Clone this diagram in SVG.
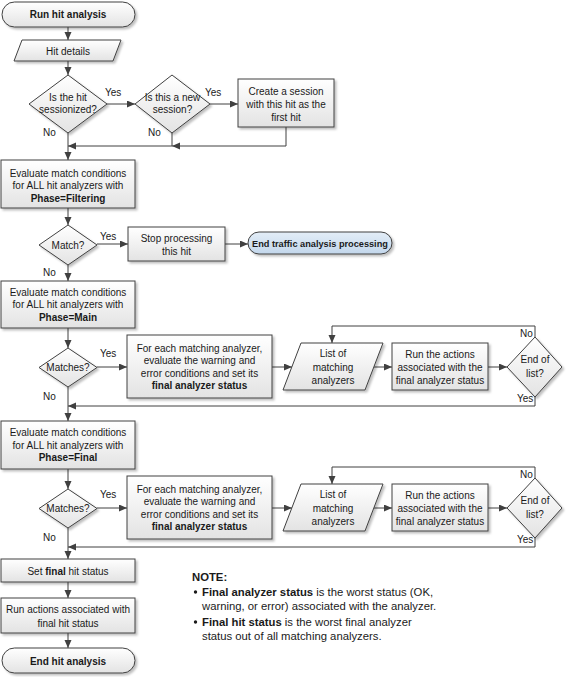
<svg xmlns="http://www.w3.org/2000/svg" width="571" height="677" viewBox="0 0 571 677">
<style>
text{font-family:"Liberation Sans",Arial,sans-serif;font-size:10px;fill:#1a1a1a;text-anchor:middle}
.l{text-anchor:start}
.b{font-weight:bold}
.n{font-size:11.3px}
.s{stroke:#404040;stroke-width:1;fill:url(#g)}
.t{stroke:#404040;stroke-width:1;fill:url(#gb)}
.c path{fill:none;stroke:#404040;stroke-width:1}
.a{marker-end:url(#ar)}
.sh{filter:url(#ds)}
</style>
<defs>
<linearGradient id="g" x1="0" y1="0" x2="0" y2="1"><stop offset="0" stop-color="#ffffff"/><stop offset="1" stop-color="#e3e3e3"/></linearGradient>
<linearGradient id="gb" x1="0" y1="0" x2="0" y2="1"><stop offset="0" stop-color="#e3edf7"/><stop offset="1" stop-color="#c3d7ec"/></linearGradient>
<filter id="ds" x="-10%" y="-10%" width="130%" height="140%"><feDropShadow dx="2" dy="2" stdDeviation="1.2" flood-color="#000" flood-opacity="0.25"/></filter>
<marker id="ar" markerWidth="9" markerHeight="8" refX="8" refY="3.5" orient="auto" markerUnits="userSpaceOnUse"><path d="M0,0 L8,3.5 L0,7 z" fill="#404040"/></marker>
</defs>

<g id="connectors" class="c">
<path class="a" d="M68,27 V40"/>
<path class="a" d="M68,61 V75"/>
<path class="a" d="M107,104 H135"/>
<path class="a" d="M210,104 H238"/>
<path class="a" d="M286,127 V146 H172"/>
<path class="a" d="M172,133 V146 H68"/>
<path d="M68,133 V146"/>
<path class="a" d="M68,146 V160"/>
<path class="a" d="M68,208 V225"/>
<path class="a" d="M97,244 H128"/>
<path class="a" d="M225,244 H248"/>
<path class="a" d="M68,265 V281"/>
<path class="a" d="M68,328 V348"/>
<path class="a" d="M97,367 H127"/>
<path class="a" d="M272,367 H292"/>
<path class="a" d="M374,367 H392"/>
<path class="a" d="M488,367 H507"/>
<path class="a" d="M535,337 V326 H332 V343"/>
<path class="a" d="M535,397 V406 H68"/>
<path d="M68,387 V406"/>
<path class="a" d="M68,406 V421"/>
<path class="a" d="M68,469 V489"/>
<path class="a" d="M97,508 H127"/>
<path class="a" d="M272,508 H292"/>
<path class="a" d="M374,508 H392"/>
<path class="a" d="M488,508 H507"/>
<path class="a" d="M535,478 V467 H332 V484"/>
<path class="a" d="M535,538 V547 H68"/>
<path d="M68,528 V547"/>
<path class="a" d="M68,547 V559"/>
<path class="a" d="M68,582 V598"/>
<path class="a" d="M68,633 V648"/>
</g>

<g id="labels">
<text class="l" x="105" y="96">Yes</text>
<text class="l" x="205" y="96">Yes</text>
<text class="l" x="43" y="136">No</text>
<text class="l" x="148" y="136">No</text>
<text class="l" x="100" y="240">Yes</text>
<text class="l" x="43" y="276">No</text>
<text class="l" x="100" y="357">Yes</text>
<text class="l" x="43" y="400">No</text>
<text class="l" x="520" y="337">No</text>
<text class="l" x="517" y="402">Yes</text>
<text class="l" x="100" y="498">Yes</text>
<text class="l" x="43" y="541">No</text>
<text class="l" x="520" y="478">No</text>
<text class="l" x="517" y="543">Yes</text>
</g>

<g id="start"><rect class="s sh" x="2" y="2" width="133" height="25" rx="12.5"/><text class="b" x="68" y="18">Run hit analysis</text></g>
<g id="hit-details"><polygon class="s sh" points="22,40 121,40 113,61 14,61"/><text x="68" y="54.5">Hit details</text></g>
<g id="sessionized"><polygon class="s sh" points="68,75 107,104 68,133 29,104"/><text x="68" y="101">Is the hit</text><text x="68" y="113">sessionized?</text></g>
<g id="new-session"><polygon class="s sh" points="172,75 210,104 172,133 135,104"/><text x="172.5" y="101">Is this a new</text><text x="172.5" y="113">session?</text></g>
<g id="create-session"><rect class="s sh" x="238" y="79" width="96" height="48"/><text x="286" y="94.5">Create a session</text><text x="286" y="107.5">with this hit as the</text><text x="286" y="120.5">first hit</text></g>

<g id="eval-filtering"><rect class="s sh" x="1" y="160" width="134" height="48"/><text x="68" y="176.5">Evaluate match conditions</text><text x="68" y="189">for ALL hit analyzers with</text><text class="b" x="68" y="201.5">Phase=Filtering</text></g>
<g id="match"><polygon class="s sh" points="68,225 97,245 68,265 39,245"/><text x="68" y="248.5">Match?</text></g>
<g id="stop"><rect class="s sh" x="128" y="227" width="97" height="34"/><text x="176.5" y="241.5">Stop processing</text><text x="176.5" y="254.5">this hit</text></g>
<g id="end-traffic"><rect class="t sh" x="248" y="232" width="144" height="22" rx="11"/><text class="b" x="320" y="246.5" style="font-size:9.2px">End traffic analysis processing</text></g>

<g id="eval-main"><rect class="s sh" x="1" y="281" width="134" height="47"/><text x="68" y="295.5">Evaluate match conditions</text><text x="68" y="308">for ALL hit analyzers with</text><text class="b" x="68" y="320.5">Phase=Main</text></g>
<g id="matches-main"><polygon class="s sh" points="68,348 97,367.5 68,387 39,367.5"/><text x="68" y="371">Matches?</text></g>
<g id="foreach-main"><rect class="s sh" x="127" y="335" width="145" height="63"/><text x="199.5" y="351.5">For each matching analyzer,</text><text x="199.5" y="364">evaluate the warning and</text><text x="199.5" y="376.5">error conditions and set its</text><text class="b" x="199.5" y="389">final analyzer status</text></g>
<g id="list-main"><polygon class="s sh" points="301,343 383,343 365,390 283,390"/><text x="333" y="356.5">List of</text><text x="333" y="370.5">matching</text><text x="333" y="383.5">analyzers</text></g>
<g id="run-main"><rect class="s sh" x="392" y="343" width="96" height="47"/><text x="440" y="357.5">Run the actions</text><text x="440" y="370.5">associated with the</text><text x="440" y="383.5">final analyzer status</text></g>
<g id="endlist-main"><polygon class="s sh" points="535,337 562,367 535,397 507,367"/><text x="535" y="362.5">End of</text><text x="535" y="376.5">list?</text></g>

<g id="eval-final"><rect class="s sh" x="1" y="421" width="134" height="48"/><text x="68" y="436">Evaluate match conditions</text><text x="68" y="448.5">for ALL hit analyzers with</text><text class="b" x="68" y="461">Phase=Final</text></g>
<g id="matches-final"><polygon class="s sh" points="68,489 97,508.5 68,528 39,508.5"/><text x="68" y="512">Matches?</text></g>
<g id="foreach-final"><rect class="s sh" x="127" y="476" width="145" height="63"/><text x="199.5" y="492.5">For each matching analyzer,</text><text x="199.5" y="505">evaluate the warning and</text><text x="199.5" y="517.5">error conditions and set its</text><text class="b" x="199.5" y="530">final analyzer status</text></g>
<g id="list-final"><polygon class="s sh" points="301,484 383,484 365,531 283,531"/><text x="333" y="497.5">List of</text><text x="333" y="511.5">matching</text><text x="333" y="524.5">analyzers</text></g>
<g id="run-final"><rect class="s sh" x="392" y="484" width="96" height="47"/><text x="440" y="498.5">Run the actions</text><text x="440" y="511.5">associated with the</text><text x="440" y="524.5">final analyzer status</text></g>
<g id="endlist-final"><polygon class="s sh" points="535,478 562,508 535,538 507,508"/><text x="535" y="503.5">End of</text><text x="535" y="517.5">list?</text></g>

<g id="set-final"><rect class="s sh" x="1" y="559" width="134" height="23"/><text x="68" y="574.5">Set <tspan class="b">final</tspan> hit status</text></g>
<g id="run-final-actions"><rect class="s sh" x="1" y="598" width="134" height="35"/><text x="68" y="612.5">Run actions associated with</text><text x="68" y="626.5">final hit status</text></g>
<g id="end"><rect class="s sh" x="2" y="648" width="133" height="25" rx="12.5"/><text class="b" x="68" y="664.5">End hit analysis</text></g>

<g id="note">
<text class="l b n" x="192" y="581">NOTE:</text>
<circle cx="195.5" cy="592" r="1.7" fill="#1a1a1a"/>
<text class="l n" x="202" y="596"><tspan class="b">Final analyzer status</tspan> is the worst status (OK,</text>
<text class="l n" x="202" y="610">warning, or error) associated with the analyzer.</text>
<circle cx="195.5" cy="622" r="1.7" fill="#1a1a1a"/>
<text class="l n" x="202" y="626"><tspan class="b">Final hit status</tspan> is the worst final analyzer</text>
<text class="l n" x="202" y="640">status out of all matching analyzers.</text>
</g>
</svg>
